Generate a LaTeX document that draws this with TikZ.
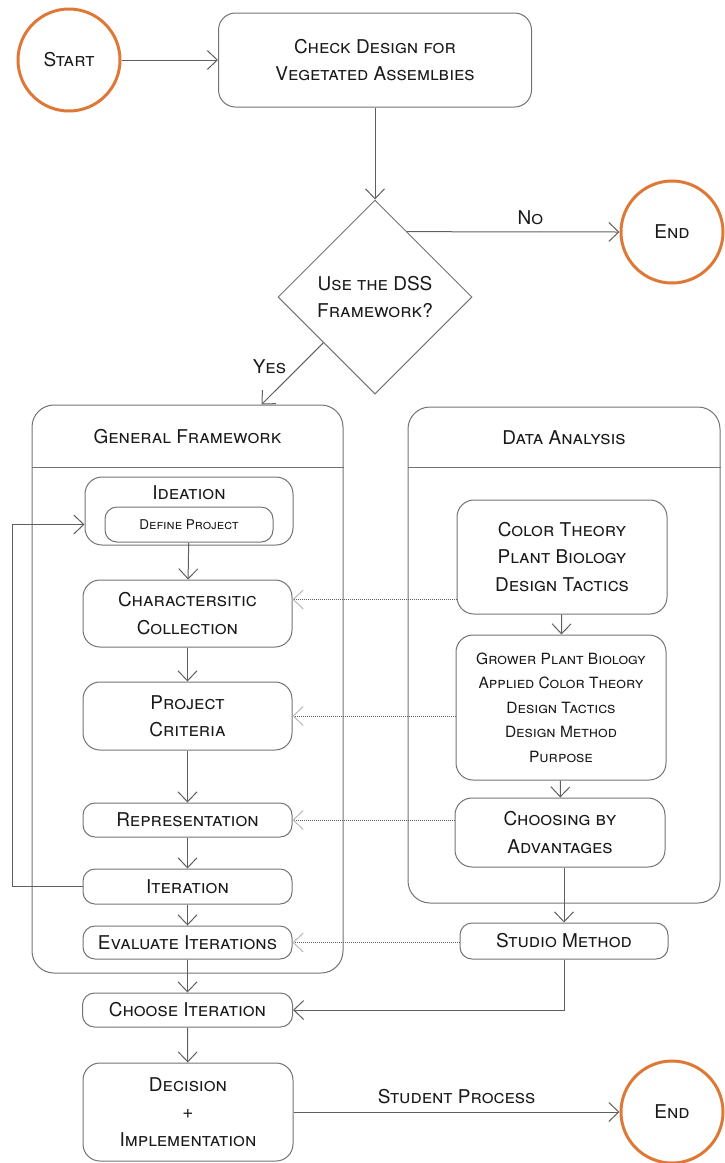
\documentclass[tikz,border=0pt]{standalone}
\usepackage{fontspec}
\setmainfont{TeX Gyre Heros}
\usepackage{xcolor}
\usepackage{tikz}
\usetikzlibrary{
  positioning,
  calc,
  arrows.meta,
  shapes.geometric
}

\definecolor{lineg}{RGB}{95,95,95}
\definecolor{boxg}{RGB}{115,115,115}
\definecolor{txtg}{RGB}{25,25,25}
\definecolor{endor}{RGB}{222,120,55}

\newcommand{\fwfont}{\fontsize{19}{27.5}\selectfont\scshape}
\newcommand{\fwsmall}{\fontsize{15.5}{24.5}\selectfont\scshape}
\newcommand{\fwtiny}{\fontsize{13.5}{16}\selectfont\scshape}

\begin{document}
\begin{tikzpicture}[x=1pt,y=-1pt,
  >={Straight Barb[length=10pt,width=19pt]},
  every node/.style={text=txtg},
  box/.style={draw=boxg,line width=1pt,rounded corners=17pt,align=center,inner sep=0pt,font=\fwfont},
  flat/.style={box,rounded corners=12pt},
  lane/.style={draw=boxg,line width=1pt,rounded corners=22pt,inner sep=0pt},
  term/.style={circle,draw=endor,line width=3pt,minimum size=102pt,inner sep=0pt,font=\fwfont},
  arr/.style={->,draw=lineg,line width=1pt},
  dotarr/.style={-{Straight Barb[length=10pt,width=19pt,color=gray!55]},draw=lineg,line width=1pt,dash pattern=on 1pt off 1pt}
]
  \useasboundingbox (0,0) rectangle (724,1163);

  % 開始と判定
  \node (start) [term] at (69,60) {Start};
  \node (chk) [box,minimum width=313pt,minimum height=94pt] at (375,60) {Check Design for\\Vegetated Assemlbies};
  \node (dss) [diamond,draw=boxg,line width=1pt,minimum width=194pt,minimum height=194pt,inner sep=0pt,align=center,font=\fwfont] at (375,297) {Use the DSS\\Framework?};
  \node (end1) [term] at (672,232) {End};

  % 二つの枠
  \node (gf) [lane,minimum width=311pt,minimum height=568pt] at (187.5,689) {};
  \node (gfh) [font=\fwfont] at (187.5,437) {General Framework};
  \draw [boxg,line width=1pt] (gf.west |- 0,467) -- (gf.east |- 0,467);
  \node (da) [lane,minimum width=312pt,minimum height=496pt] at (564,655) {};
  \node (dah) [font=\fwfont] at (564,438) {Data Analysis};
  \draw [boxg,line width=1pt] (da.west |- 0,467) -- (da.east |- 0,467);
  \coordinate (yes) at ($(gf.north west)+(230,0)$);

  % 左の列
  \node (id) [box,minimum width=208pt,minimum height=68pt,
    label={[anchor=north,yshift=-6pt,font=\fwfont]north:Ideation}] at (189,511) {};
  \node (dp) [flat,font=\fwtiny,minimum width=168pt,minimum height=35pt] at (189,524.5) {Define Project};
  \node (cc) [box,minimum width=209pt,minimum height=67pt] at (187.5,613.5) {Charactersitic\\Collection};
  \node (pc) [box,minimum width=209pt,minimum height=68pt] at (187.5,716) {Project\\Criteria};
  \node (rep) [flat,minimum width=209pt,minimum height=34pt] at (187.5,820) {Representation};
  \node (it) [flat,minimum width=209pt,minimum height=35pt] at (187.5,886.5) {Iteration};
  \node (ev) [flat,minimum width=209pt,minimum height=33pt] at (187.5,942.5) {Evaluate Iterations};
  \node (ci) [flat,minimum width=210pt,minimum height=34pt] at (187.5,1010) {Choose Iteration};
  \node (dec) [box,minimum width=210pt,minimum height=98pt] at (188,1112) {Decision\\+\\Implementation};
  \node (end2) [term] at (672,1112) {End};

  % 右の列
  \node (ct) [box,minimum width=210pt,minimum height=114pt] at (562,557) {Color Theory\\Plant Biology\\Design Tactics};
  \node (gr) [box,font=\fwsmall,minimum width=210pt,minimum height=145pt] at (561,707.5) {Grower Plant Biology\\Applied Color Theory\\Design Tactics\\Design Method\\Purpose};
  \node (cba) [box,minimum width=210pt,minimum height=69pt] at (560,832.5) {Choosing by\\Advantages};
  \node (sm) [flat,minimum width=208pt,minimum height=36pt] at (564,941) {Studio Method};

  % 矢印
  \draw [arr] (start) -- (chk);
  \draw [arr] (chk) -- (dss);
  \draw [arr] ($(dss.north)!0.33!(dss.east)$) -- node[above=3pt,pos=0.58,font=\fwfont]{No} (end1.west);
  \draw [arr] ($(dss.west)!0.47!(dss.south)$) -- node[left=10pt,pos=0.38,font=\fwfont]{Yes} (yes);
  \draw [arr] (dp) -- (cc);
  \draw [arr] (cc) -- (pc);
  \draw [arr] (pc) -- (rep);
  \draw [arr] (rep) -- (it);
  \draw [arr] (it) -- (ev);
  \draw [arr] (ev) -- (ci);
  \draw [arr] (ci) -- (dec);
  \draw [arr] (it.west) -- ++(-70,0) |- (id.west |- dp.west);
  \draw [arr] (ct) -- (gr);
  \draw [arr] (gr) -- (cba);
  \draw [arr] (cba.south -| sm.north) -- (sm.north);
  \draw [arr] (sm.south) |- (ci.east);
  \draw [arr] (dec) -- node[above=4pt,font=\fwfont]{Student Process} (end2);

  % 点線の矢印
  \draw [dotarr] ($(ct.west |- cc.east)+(0,-14)$) -- ($(cc.east)+(0,-14)$);
  \draw [dotarr] (gr.west |- pc.east) -- (pc.east);
  \draw [dotarr] (cba.west |- rep.east) -- (rep.east);
  \draw [dotarr] (sm.west |- ev.east) -- (ev.east);
\end{tikzpicture}
\end{document}
